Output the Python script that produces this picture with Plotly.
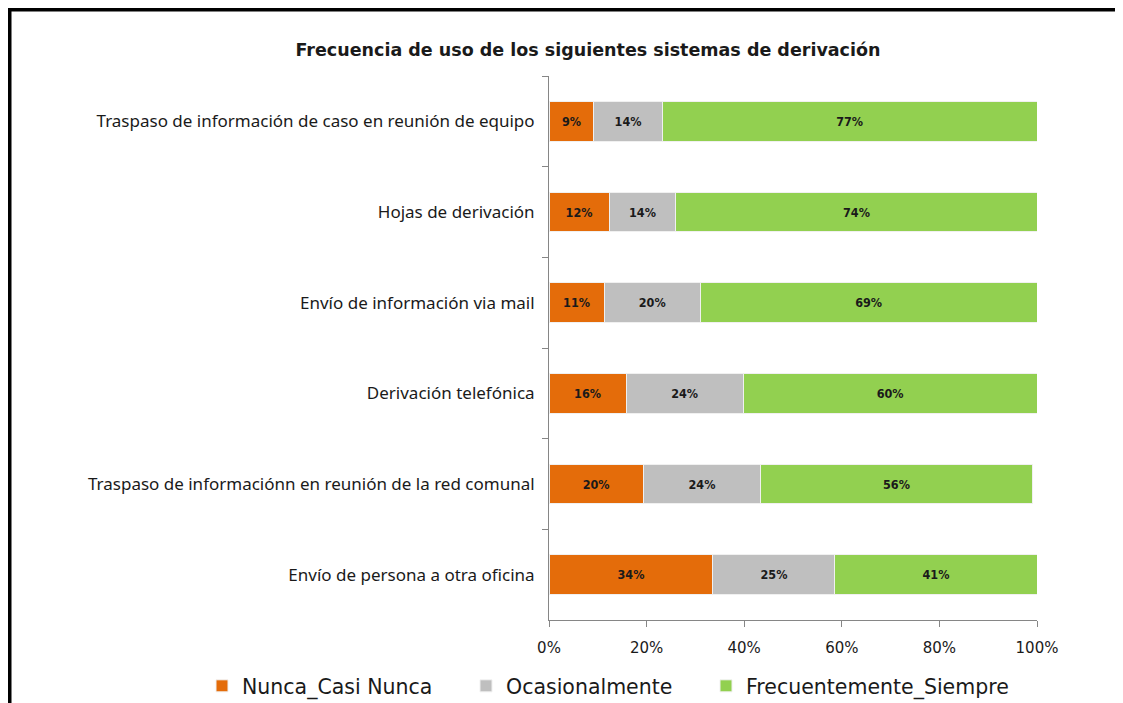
import plotly.graph_objects as go

categories = [
    "Traspaso de información de caso en reunión de equipo",
    "Hojas de derivación",
    "Envío de información via mail",
    "Derivación telefónica",
    "Traspaso de informaciónn en reunión de la red comunal",
    "Envío de persona a otra oficina",
]
nunca = [9.2, 12.3, 11.3, 15.8, 19.3, 33.6]
ocasional = [14.0, 13.7, 19.7, 24.0, 24.1, 25.0]
frecuente = [76.8, 74.0, 69.0, 60.2, 55.6, 41.4]
nunca_lbl = ["9%", "12%", "11%", "16%", "20%", "34%"]
ocasional_lbl = ["14%", "14%", "20%", "24%", "24%", "25%"]
frecuente_lbl = ["77%", "74%", "69%", "60%", "56%", "41%"]
series_names = ["Nunca_Casi Nunca", "Ocasionalmente", "Frecuentemente_Siempre"]
colors = ["#E46C0A", "#BFBFBF", "#92D050"]
x_ticks = [0, 20, 40, 60, 80, 100]
x_tick_text = ["0%", "20%", "40%", "60%", "80%", "100%"]
title = "Frecuencia de uso de los siguientes sistemas de derivación"

OFF = 8  # page body margin
W, H = 1123 - OFF, 703 - OFF
L, R, T, B = 549 - OFF, 1123 - 1037, 76 - OFF, 703 - 620
pw, ph = W - L - R, H - T - B

def px(xp):
    return (xp - OFF - L) / pw

def py(yp):
    return (H - B - (yp - OFF)) / ph

legend_ids = ["legend", "legend2", "legend3"]
legend_x_px = [202, 466, 706]

fig = go.Figure()
for name, vals, lbls, col, lid in zip(series_names, [nunca, ocasional, frecuente],
                                      [nunca_lbl, ocasional_lbl, frecuente_lbl], colors, legend_ids):
    fig.add_trace(go.Bar(
        y=categories, x=vals, orientation="h", name=name, legend=lid,
        marker=dict(color=col, line=dict(color="#F0F0F0", width=1)),
        text=lbls, textposition="inside", insidetextanchor="middle",
        textangle=0,
        insidetextfont=dict(family="DejaVu Sans Condensed", size=12.5, color="#1a1a1a", weight="bold"),
        hoverinfo="skip",
    ))

legend_style = dict(orientation="h", xanchor="left", y=py(686), yanchor="middle", itemclick=False,
                    font=dict(family="DejaVu Sans", size=20.5, color="#1a1a1a"))

fig.update_layout(
    width=W, height=H,
    barmode="stack", bargap=0.56,
    margin=dict(l=L, r=R, t=T, b=B, autoexpand=False),
    paper_bgcolor="white", plot_bgcolor="white",
    showlegend=True,
    legend=dict(x=px(legend_x_px[0]), **legend_style),
    legend2=dict(x=px(legend_x_px[1]), **legend_style),
    legend3=dict(x=px(legend_x_px[2]), **legend_style),
    xaxis=dict(range=[0, 100], tickvals=x_ticks, ticktext=x_tick_text,
               showgrid=False, zeroline=False, showline=True, linecolor="#868686", linewidth=1,
               ticks="outside", ticklen=6, tickcolor="#868686", ticklabelstandoff=8,
               tickfont=dict(family="DejaVu Sans", size=15, color="#1a1a1a")),
    yaxis=dict(autorange="reversed", showgrid=False, showline=True, linecolor="#868686", linewidth=1,
               ticks="outside", ticklen=6, tickcolor="#868686", tickson="boundaries",
               tickfont=dict(family="Noto Sans", size=17, color="#1a1a1a"), ticklabelstandoff=10),
    title=dict(text="<b>" + title + "</b>", xref="container", x=(588 - OFF) / W, xanchor="center",
               yref="container", y=1 - (50 - OFF) / H, yanchor="middle",
               font=dict(family="DejaVu Sans", size=17.5, color="#1a1a1a")),
    shapes=[
        dict(type="line", xref="paper", yref="paper", x0=px(6), x1=px(1140), y0=py(9), y1=py(9),
             line=dict(color="black", width=5)),
        dict(type="line", xref="paper", yref="paper", x0=px(9), x1=px(9), y0=py(6), y1=py(720),
             line=dict(color="black", width=5)),
    ],
)

fig.write_html("out.html")
